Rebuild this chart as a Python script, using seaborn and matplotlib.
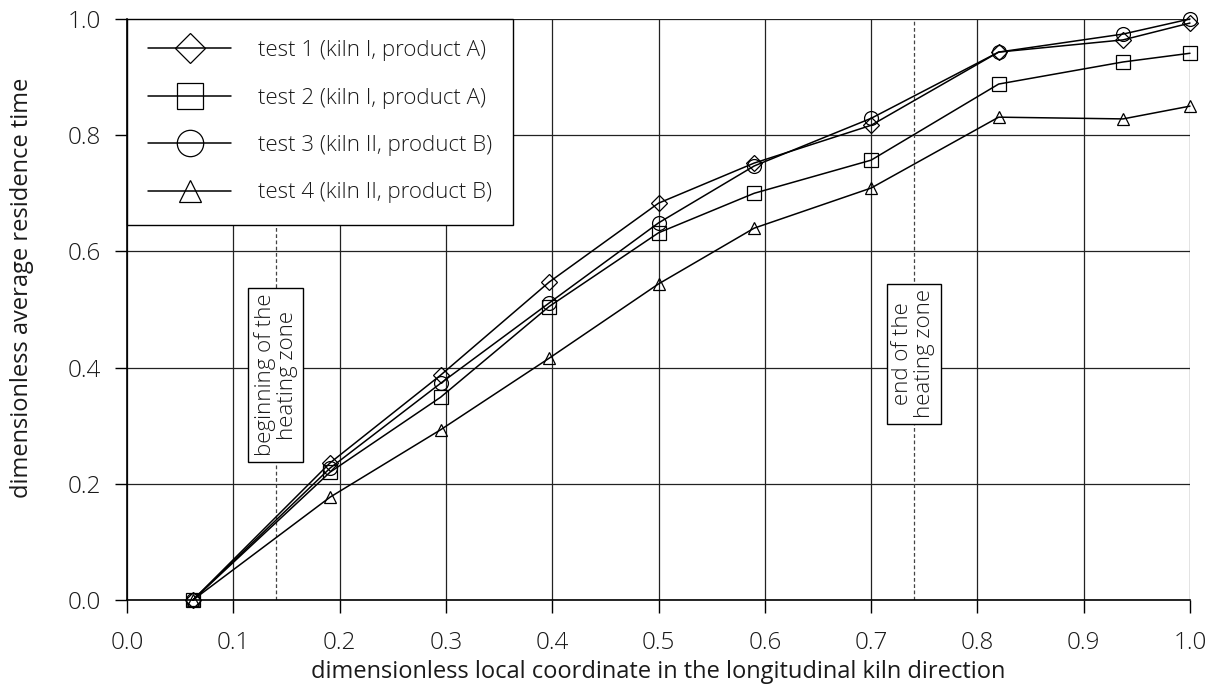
import numpy as np
import pandas as pd
import matplotlib
matplotlib.use("Agg")
import matplotlib.pyplot as plt
import seaborn as sns

# ---- data ----
x_pos = [0.062, 0.191, 0.295, 0.397, 0.50, 0.59, 0.70, 0.82, 0.937, 1.0]
test1 = [0.0, 0.236, 0.387, 0.547, 0.683, 0.752, 0.817, 0.943, 0.964, 0.993]
test2 = [0.0, 0.220, 0.349, 0.505, 0.632, 0.700, 0.757, 0.888, 0.926, 0.941]
test3 = [0.0, 0.227, 0.373, 0.511, 0.649, 0.747, 0.829, 0.943, 0.974, 1.0]
test4 = [0.0, 0.177, 0.293, 0.416, 0.544, 0.640, 0.709, 0.831, 0.828, 0.850]
labels = ["test 1 (kiln I, product A)", "test 2 (kiln I, product A)",
          "test 3 (kiln II, product B)", "test 4 (kiln II, product B)"]
markers = ["D", "s", "o", "^"]
x_ticks = [0.0, 0.1, 0.2, 0.3, 0.4, 0.5, 0.6, 0.7, 0.8, 0.9, 1.0]
y_ticks = [0.0, 0.2, 0.4, 0.6, 0.8, 1.0]
zone_begin = 0.14
zone_end = 0.74
zone_texts = ["beginning of the\nheating zone", "end of the\nheating zone"]
zone_text_y = [0.387, 0.424]
xlabel = "dimensionless local coordinate in the longitudinal kiln direction"
ylabel = "dimensionless average residence time"

sns.set_theme(style="white")
plt.rcParams['font.family'] = ['Open Sans', 'DejaVu Sans']
plt.rcParams['font.weight'] = 'light'
TXT = "#1a1a1a"

fig = plt.figure(figsize=(12.17, 6.85), dpi=100)
ax = fig.add_axes([0.1044, 0.1241, 0.8734, 0.8482])

series = [test1, test2, test3, test4]
msizes = [8, 10, 10, 8.5]
for vals, lab, mk, ms in zip(series, labels, markers, msizes):
    df = pd.DataFrame({"x": x_pos, "y": vals})
    sns.lineplot(data=df, x="x", y="y", ax=ax, color="black", linewidth=1.1,
                 marker=mk, markersize=ms, markerfacecolor="none",
                 markeredgecolor="black", markeredgewidth=0.9,
                 label=lab, sort=False, clip_on=False, zorder=4)

ax.set_xlim(0, 1.0)
ax.set_ylim(0, 1.0)
ax.set_xticks(x_ticks)
ax.set_yticks(y_ticks)
ax.set_xticklabels([f"{v:.1f}" for v in x_ticks])
ax.set_yticklabels([f"{v:.1f}" for v in y_ticks])
ax.tick_params(axis="both", which="major", labelsize=17.5, length=9, width=1,
               color="black", direction="out", bottom=True, left=True,
               labelcolor=TXT)
ax.tick_params(axis="x", pad=13)
ax.tick_params(axis="y", pad=10)
ax.grid(True, color="#222222", linewidth=0.9)
ax.set_axisbelow(True)
for side in ["top", "right"]:
    ax.spines[side].set_visible(False)
for side in ["left", "bottom"]:
    ax.spines[side].set_color("black")
    ax.spines[side].set_linewidth(1.2)

for xv in [zone_begin, zone_end]:
    ax.axvline(xv, color="#444444", linewidth=0.9, linestyle=(0, (3, 2)), zorder=1)

for xv, txt, ty in zip([zone_begin, zone_end], zone_texts, zone_text_y):
    ax.text(xv, ty, txt, rotation=90, ha="center", va="center", fontsize=16,
            multialignment="center", color=TXT, zorder=3, linespacing=1.05,
            bbox=dict(boxstyle="square,pad=0.25", facecolor="white",
                      edgecolor="black", linewidth=1))

ax.set_xlabel(xlabel, fontsize=17, color=TXT, labelpad=4)
ax.set_ylabel(ylabel, fontsize=17, color=TXT)
ax.yaxis.set_label_coords(-0.088, 0.537)

leg = ax.legend(loc="upper left", bbox_to_anchor=(0, 1), borderaxespad=0,
                fontsize=16, handlelength=3.75, handletextpad=1.2,
                labelspacing=1.19, markerscale=1.9, frameon=True,
                fancybox=False, borderpad=0.95)
leg.get_frame().set_edgecolor("black")
leg.get_frame().set_linewidth(1.0)
leg.get_frame().set_alpha(1.0)
leg.set_zorder(10)
for t in leg.get_texts():
    t.set_color(TXT)

fig.savefig("out.png", dpi=100)
